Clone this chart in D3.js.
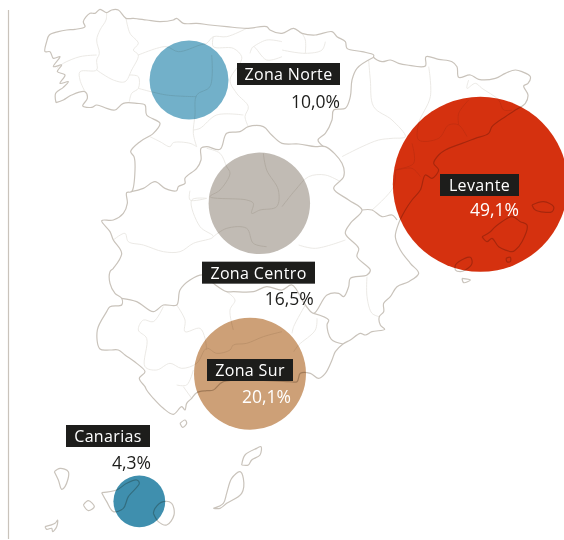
<!DOCTYPE html>
<html>
<head>
<meta charset="utf-8">
<script src="https://cdn.jsdelivr.net/npm/d3@7"></script>
<style>
  html, body { margin: 0; padding: 0; background: #fff; }
  svg { display: block; isolation: isolate; }
  text { font-family: "Open Sans", sans-serif; }
</style>
</head>
<body>
<div id="chart"></div>
<script>
const categories = ["Zona Norte", "Levante", "Zona Centro", "Zona Sur", "Canarias"];
const shares = [10.0, 49.1, 16.5, 20.1, 4.3];
const shareLabels = ["10,0%", "49,1%", "16,5%", "20,1%", "4,3%"];
const bubbleColors = ["#72b0c9", "#d5310f", "#c1bbb4", "#cda077", "#3f8fae"];
const shareColors = ["#1d1d1b", "#fff", "#1d1d1b", "#fff", "#1d1d1b"];

const width = 564;
const height = 540;
const maxRadius = 87.5;

// outlines are traced in map units (3 per pixel), one sheet per quarter of the map
const sheetOffset = [[0, 0], [846, 0], [0, 810], [846, 810]];
function sheet(i, pts) {
    return pts.map(p => [p[0] + sheetOffset[i][0], p[1] + sheetOffset[i][1]]);
}

const peninsula = [
    ...sheet(0, [[168,308],[167,280],[190,262],[205,245],[180,250],[195,225],[172,215],[185,195],[160,200],[180,170],[160,175],[150,155],[135,155],[140,125],[148,105],[175,95],[200,90],[225,88],[255,80],[250,65],[270,40],[285,40],[300,28],[320,38],[335,30],[355,30],[378,55],[400,55],[440,60],[480,65],[520,60],[530,55],[550,70],[590,70],[630,75],[680,80],[740,85],[800,80],[810,90],[846,100]]),
    ...sheet(1, [[35,85],[60,100],[100,105],[150,95],[165,110],[190,125],[195,145],[240,155],[275,165],[275,172],[300,185],[325,180],[350,190],[375,195],[430,198],[432,170],[470,178],[510,185],[525,200],[530,232],[565,225],[590,238],[640,235],[670,220],[700,210],[720,215],[745,230],[738,250],[725,258],[738,285],[730,310],[700,330],[670,350],[630,380],[620,400],[580,415],[540,430],[490,450],[470,465],[455,490],[470,510],[450,535],[430,525],[415,570],[390,600],[370,630],[350,670],[340,710],[355,750],[385,790]]),
    ...sheet(3, [[410,10],[380,35],[345,50],[325,80],[305,100],[305,125],[292,140],[295,165],[308,178],[270,185],[250,195],[235,190],[205,210],[183,222],[160,245],[150,270],[130,310],[110,325],[85,310],[55,310],[45,335],[20,335]]),
    ...sheet(2, [[670,335],[640,360],[620,362],[590,368],[575,385],[560,400],[555,420],[545,410],[520,433],[490,415],[460,385],[440,360],[435,350],[418,325],[435,305],[410,280],[375,255],[355,240],[330,240],[300,237],[292,180],[320,125],[330,110],[365,105],[365,85],[345,70],[330,40],[330,5]]),
    ...sheet(0, [[340,805],[365,760],[340,720],[330,695],[305,662],[340,660],[370,640],[382,610],[380,578],[395,575],[405,510],[402,470],[392,455],[420,425],[460,400],[480,370],[440,345],[435,315],[410,310],[370,310],[345,330],[320,325],[290,315],[275,322],[248,318],[262,295],[255,275],[215,285],[190,300],[168,308]])
];

const islands = [
    sheet(1, [[750,615],[785,605],[815,620],[810,635],[760,630],[750,615]]),
    sheet(1, [[600,710],[625,695],[640,680],[690,650],[715,665],[735,675],[720,725],[700,750],[690,755],[650,740],[630,715],[615,725],[600,710]]),
    sheet(1, [[520,795],[530,785],[565,772],[570,790],[550,810],[535,815],[520,810],[520,795]]),
    sheet(3, [[540,25],[565,30],[545,38],[540,25]]),
    sheet(1, [[672,775],[685,772],[685,785],[675,785],[672,775]]),
    sheet(2, [[540,460],[555,450],[560,460],[548,472],[540,460]]),
    sheet(2, [[163,605],[180,595],[205,605],[195,650],[185,658],[175,630],[163,605]]),
    sheet(2, [[250,705],[265,692],[283,710],[265,722],[250,705]]),
    sheet(2, [[135,770],[165,760],[173,750],[170,770],[158,785],[155,775],[140,778],[135,770]]),
    sheet(2, [[305,668],[350,660],[380,640],[410,630],[418,640],[385,680],[370,715],[340,725],[320,695],[305,668]]),
    sheet(2, [[460,730],[465,715],[490,695],[515,700],[522,735],[500,765],[475,755],[460,730]]),
    sheet(2, [[640,715],[670,700],[680,670],[695,625],[720,605],[730,625],[725,670],[680,700],[660,715],[640,715]]),
    sheet(2, [[725,585],[735,555],[770,535],[783,530],[780,555],[755,570],[745,585],[725,585]])
];

// community borders
const regionBorders = [
    [...sheet(0, [[392,575],[430,565],[465,545],[495,565],[530,572],[535,560],[555,550],[555,535],[590,505],[603,480],[603,445],[620,440],[660,448],[680,400],[720,395],[745,380],[790,380],[815,405],[846,430]]),
     ...sheet(1, [[50,432],[100,440],[130,440],[180,490],[185,530],[155,565],[200,600],[240,630],[205,670],[190,700],[230,745],[225,770],[265,810]]),
     ...sheet(3, [[255,15],[205,25],[200,50],[185,80],[170,70],[135,75],[95,130],[70,105],[30,45],[0,60]]),
     ...sheet(2, [[800,50],[760,65],[700,65],[680,65],[640,40],[610,15],[570,30],[540,60],[530,105],[490,105],[460,125],[410,95],[365,85]])],
    sheet(3, [[95,130],[140,150],[135,165],[148,208],[183,222]]),
    sheet(1, [[275,172],[225,205],[210,240],[205,290],[190,325],[155,330],[150,360],[130,400],[108,420],[125,440]]),
    sheet(1, [[240,630],[270,630],[300,650],[330,645],[345,660]])
];

// province borders
const provinceBorders = [
    sheet(0, [[320,38],[318,60],[300,90],[290,120],[298,160],[290,180],[290,210],[240,215],[240,240],[255,275]]),
    sheet(0, [[290,165],[240,170],[190,190],[170,205]]),
    sheet(0, [[378,55],[390,100],[415,130],[400,150],[415,165],[395,210],[375,245],[340,240],[290,210]]),
    sheet(0, [[415,165],[470,145],[500,140],[535,155],[600,135],[620,130],[640,110],[680,110],[740,85]]),
    sheet(0, [[640,110],[640,140],[700,145],[725,170],[720,190],[690,240],[710,280],[745,320],[735,350],[745,380]]),
    sheet(0, [[635,165],[630,260],[590,285],[585,345],[580,400],[590,440]]),
    sheet(0, [[388,225],[415,230],[415,265],[395,280],[388,305]]),
    sheet(0, [[415,265],[500,285],[590,290]]),
    sheet(0, [[580,390],[600,385],[650,345],[730,345]]),
    sheet(0, [[450,410],[480,425],[510,440],[520,428],[570,430],[590,440]]),
    sheet(0, [[570,572],[570,600],[620,595],[575,600],[600,680],[640,710],[580,730],[540,755],[490,755],[430,735],[385,725],[375,700],[340,720]]),
    sheet(0, [[640,710],[680,685],[740,685],[760,730],[800,740]]),
    sheet(0, [[620,445],[660,460],[680,500],[690,520],[660,570],[630,590],[740,600],[760,610],[755,640],[780,630],[830,620],[835,570],[800,510],[790,460]]),
    sheet(0, [[760,140],[800,120],[846,125]]),
    sheet(0, [[750,160],[760,140],[800,180],[846,170]]),
    sheet(1, [[0,150],[70,160],[120,150],[130,125]]),
    sheet(1, [[70,160],[70,120],[60,100]]),
    sheet(1, [[260,180],[265,240],[275,320],[330,360],[370,410],[330,415],[290,420],[240,440],[180,470]]),
    sheet(1, [[440,200],[445,290],[410,370],[410,420],[470,415],[500,375],[530,375],[555,410]]),
    sheet(1, [[560,240],[555,265],[580,250],[600,265],[650,300],[665,330],[690,330]]),
    sheet(1, [[560,300],[530,340],[530,375]]),
    sheet(1, [[390,430],[395,490],[340,510],[390,505],[415,530]]),
    sheet(1, [[340,510],[335,560],[270,630]]),
    sheet(1, [[0,620],[40,570],[80,530],[130,525],[175,545]]),
    sheet(1, [[50,735],[100,745],[190,720]]),
    sheet(3, [[255,20],[255,80],[270,130],[292,140]]),
    sheet(3, [[70,105],[35,170],[30,190]]),
    sheet(3, [[105,145],[100,180],[50,225],[35,245]]),
    sheet(2, [[490,110],[460,155],[430,150],[415,180],[440,205],[435,290],[470,300],[510,280],[545,295],[590,280],[620,235],[650,250],[690,240],[700,225],[740,220],[790,200],[846,185]]),
    sheet(2, [[530,105],[555,150],[555,185],[600,175],[615,205],[620,240]]),
    sheet(2, [[700,180],[690,120],[705,90],[680,65]]),
    sheet(2, [[530,345],[560,345],[580,300]]),
    sheet(2, [[575,385],[550,350]])
];

// layout: bubble centres and label anchors, in map units
const centreX = [567, 1441, 778, 750, 418];
const centreY = [240, 553, 610, 1121, 1504];
const boxX = [711, 1320, 606, 621, 198];
const boxY = [189, 522, 785, 1077, 1275];
const boxW = [309, 237, 339, 258, 252];
const shareX = [1020, 1557, 941, 873, 453];
const shareY = [324, 648, 915, 1209, 1407];

const x = d3.scaleLinear().domain([0, 1692]).range([0, width]);
const y = d3.scaleLinear().domain([0, 1620]).range([0, height]);
const r = d3.scaleSqrt().domain([0, 49.1]).range([0, maxRadius]);

const svg = d3.select("#chart").append("svg")
    .attr("width", width)
    .attr("height", height);

svg.append("line")
    .attr("x1", 8.5).attr("x2", 8.5)
    .attr("y1", 10).attr("y2", 539)
    .attr("stroke", "#c9c3bb")
    .attr("stroke-width", 1.2);

const outline = d3.line()
    .x(d => x(d[0]))
    .y(d => y(d[1]))
    .curve(d3.curveCatmullRom.alpha(0.5));

function drawLines(lines, stroke, strokeWidth) {
    svg.append("g").selectAll("path")
        .data(lines)
        .enter()
        .append("path")
        .attr("d", outline)
        .attr("fill", "none")
        .attr("stroke", stroke)
        .attr("stroke-width", strokeWidth)
        .attr("stroke-linejoin", "round");
}

drawLines(provinceBorders, "#e9e6e2", 0.9);
drawLines(regionBorders, "#c9c3bb", 1.2);
drawLines([peninsula], "#c9c3bb", 1.2);
drawLines(islands, "#c9c3bb", 1.2);

svg.append("g").selectAll("circle")
    .data(categories)
    .enter()
    .append("circle")
    .attr("cx", (d, i) => x(centreX[i]))
    .attr("cy", (d, i) => y(centreY[i]))
    .attr("r", (d, i) => r(shares[i]))
    .attr("fill", (d, i) => bubbleColors[i])
    .style("mix-blend-mode", "multiply");

const labels = svg.append("g").selectAll("g")
    .data(categories)
    .enter()
    .append("g");

labels.append("rect")
    .attr("x", (d, i) => x(boxX[i]))
    .attr("y", (d, i) => y(boxY[i]))
    .attr("width", (d, i) => x(boxW[i]))
    .attr("height", 22)
    .attr("fill", "#1d1d1b");

labels.append("text")
    .attr("x", (d, i) => x(boxX[i] + boxW[i] / 2))
    .attr("y", (d, i) => y(boxY[i]) + 17)
    .attr("text-anchor", "middle")
    .attr("font-size", 16)
    .attr("letter-spacing", 0.35)
    .attr("fill", "#fff")
    .text(d => d);

labels.append("text")
    .attr("x", (d, i) => x(shareX[i]))
    .attr("y", (d, i) => y(shareY[i]))
    .attr("text-anchor", "end")
    .attr("font-size", 17.5)
    .attr("fill", (d, i) => shareColors[i])
    .text((d, i) => shareLabels[i]);
</script>
</body>
</html>
